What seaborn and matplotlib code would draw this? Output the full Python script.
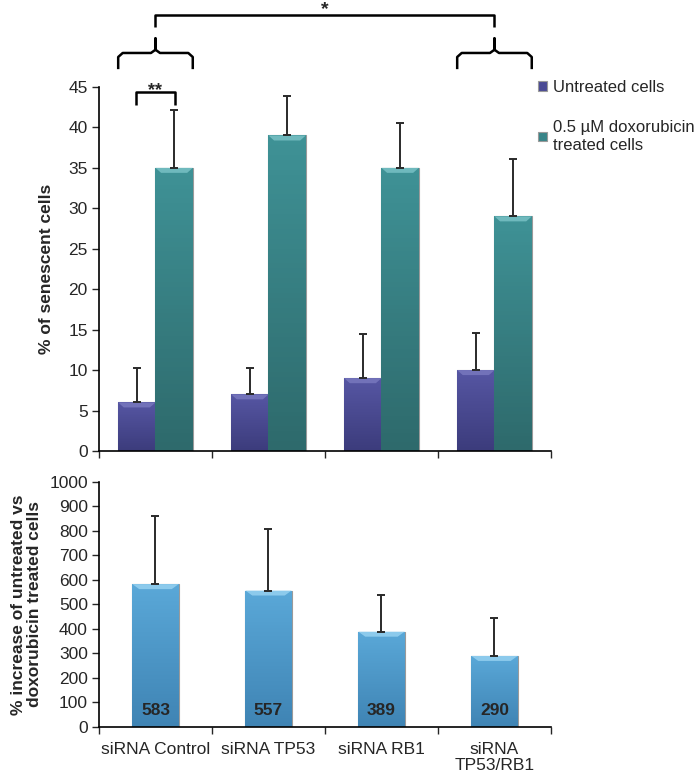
import numpy as np
import pandas as pd
import seaborn as sns
import matplotlib.pyplot as plt
from matplotlib.colors import LinearSegmentedColormap
from matplotlib.patches import Polygon

# data
groups = ['siRNA Control', 'siRNA TP53', 'siRNA RB1', 'siRNA\nTP53/RB1']
conditions = ['Untreated cells', '0.5 µM doxorubicin\ntreated cells']
untreated = [6, 7, 9, 10]
untreated_err = [4.3, 3.2, 5.4, 4.6]
treated = [35, 39, 35, 29]
treated_err = [7.1, 4.9, 5.6, 7.1]
increase = [583, 557, 389, 290]
increase_err = [277, 251, 151, 155]

sns.set_style('white')
plt.rcParams['font.family'] = ['Liberation Sans', 'DejaVu Sans']

df_top = pd.DataFrame({
    'group': groups * 2,
    'condition': [conditions[0]] * 4 + [conditions[1]] * 4,
    'value': untreated + treated,
    'err': untreated_err + treated_err,
})
df_bot = pd.DataFrame({'group': groups, 'value': increase, 'err': increase_err})

fig = plt.figure(figsize=(7, 7.77), dpi=100)
ax1 = fig.add_axes([0.1414, 0.4196, 0.6457, 0.4685])
ax2 = fig.add_axes([0.1414, 0.0644, 0.6457, 0.3153])

col_u = '#4a4a94'
col_t = '#388488'
col_b = '#4f9bcb'
shades = {
    col_u: ('#5656a3', '#3c3c7c', '#7a7ac0'),
    col_t: ('#3f9296', '#2e6a6c', '#7cc4c8'),
    col_b: ('#5aa8d8', '#3f84b4', '#9ad4f2'),
}


def shade_bars(ax, bars, color, px_h):
    # gradient fill + light bevel at the top, a bit like the original figure
    top, bot, light = shades[color]
    cmap = LinearSegmentedColormap.from_list('g', [bot, top])
    y0, y1 = ax.get_ylim()
    dy = 5 * (y1 - y0) / px_h
    for b in bars:
        x, w, h = b.get_x(), b.get_width(), b.get_height()
        grad = np.linspace(0, 1, 64).reshape(-1, 1)
        im = ax.imshow(grad, cmap=cmap, origin='lower', aspect='auto',
                       extent=[x, x + w, 0, h], zorder=b.get_zorder() + 0.1)
        im.set_clip_path(b)
        bev = Polygon([[x, h], [x + w, h], [x + w * 0.85, h - dy], [x + w * 0.15, h - dy]],
                      closed=True, facecolor=light, edgecolor='none', alpha=0.8,
                      zorder=b.get_zorder() + 0.2)
        ax.add_patch(bev)
    ax.set_xlim(-0.5, 3.5)
    ax.set_ylim(y0, y1)


# top panel
sns.barplot(data=df_top, x='group', y='value', hue='condition', ax=ax1,
            palette=[col_u, col_t], width=0.66, errorbar=None, saturation=1,
            edgecolor='#9a9a9a', linewidth=0.8)
ax1.set_ylim(0, 45)
ax1.set_xlim(-0.5, 3.5)
for bars, errs, c in zip(ax1.containers, [untreated_err, treated_err], [col_u, col_t]):
    shade_bars(ax1, bars, c, 364)
    xs = [b.get_x() + b.get_width() / 2 for b in bars]
    ys = [b.get_height() for b in bars]
    ax1.errorbar(xs, ys, yerr=[np.zeros(len(errs)), errs], fmt='none',
                 ecolor='#2a2a2a', elinewidth=1.4, capsize=3, capthick=1.4, zorder=5)

ax1.set_yticks(range(0, 46, 5))
ax1.set_xticks([-0.5, 0.5, 1.5, 2.5, 3.5])
ax1.set_xticklabels([])
ax1.set_xlabel('')
ax1.set_ylabel('% of senescent cells', fontsize=12.5, fontweight='bold', labelpad=10)
ax1.tick_params(axis='y', labelsize=12.5, length=5, width=1, direction='out', left=True, pad=3)
ax1.tick_params(axis='x', length=5, width=1, direction='out', bottom=True)
sns.despine(ax=ax1)
for s in ['left', 'bottom']:
    ax1.spines[s].set_color('black')
    ax1.spines[s].set_linewidth(1.2)
    ax1.spines[s].set_zorder(6)

leg = ax1.legend(loc='upper left', bbox_to_anchor=(0.769, 0.897),
                 bbox_transform=fig.transFigure, frameon=False, fontsize=12,
                 borderpad=0, borderaxespad=0,
                 handlelength=0.5, handleheight=0.5, handletextpad=0.38,
                 labelspacing=1.5)
for t in leg.get_texts():
    t.set_linespacing(1.25)

# significance brackets
kw = dict(color='black', lw=1.8, clip_on=False, solid_capstyle='butt', zorder=7)
ax1.plot([-0.17, -0.17, 0.17, 0.17], [42.8, 44.4, 44.4, 42.8], **kw)
ax1.text(0.0, 44.0, '**', ha='center', va='baseline', fontsize=13, fontweight='bold')
for c in [0, 3]:
    ax1.plot([c - 0.33, c - 0.33, c - 0.29, c - 0.04, c, c, c, c + 0.04, c + 0.29, c + 0.33, c + 0.33],
             [47.2, 48.7, 49.2, 49.2, 49.6, 51.0, 49.6, 49.2, 49.2, 48.7, 47.2], **kw)
ax1.plot([0, 0, 3, 3], [52.4, 53.9, 53.9, 52.4], **kw)
ax1.text(1.5, 54.0, '*', ha='center', va='baseline', fontsize=14, fontweight='bold')

# bottom panel
sns.barplot(data=df_bot, x='group', y='value', ax=ax2, color=col_b, width=0.41,
            errorbar=None, saturation=1, edgecolor='#9a9a9a', linewidth=0.8)
ax2.set_ylim(0, 1000)
ax2.set_xlim(-0.5, 3.5)
bars = ax2.containers[0]
shade_bars(ax2, bars, col_b, 245)
xs = [b.get_x() + b.get_width() / 2 for b in bars]
ys = [b.get_height() for b in bars]
ax2.errorbar(xs, ys, yerr=[np.zeros(len(increase_err)), increase_err], fmt='none',
             ecolor='#2a2a2a', elinewidth=1.4, capsize=3, capthick=1.4, zorder=5)
for x, v in zip(xs, increase):
    ax2.text(x, 68, str(v), ha='center', va='center', fontsize=12.5, fontweight='bold', zorder=6)

ax2.set_yticks(range(0, 1001, 100))
ax2.set_xticks([-0.5, 0.5, 1.5, 2.5, 3.5], minor=False)
ax2.set_xticklabels([])
ax2.set_xticks([0, 1, 2, 3], minor=True)
ax2.set_xticklabels(groups, minor=True, fontsize=12.5, linespacing=1.1, va='top')
ax2.tick_params(axis='x', which='minor', length=0, pad=11)
ax2.tick_params(axis='x', which='major', length=5, width=1, direction='out', bottom=True)
ax2.set_xlabel('')
ax2.set_ylabel('% increase of untreated vs\ndoxorubicin treated cells', fontsize=12.5,
               fontweight='bold', labelpad=5, linespacing=1.1)
ax2.tick_params(axis='y', labelsize=12.5, length=5, width=1, direction='out', left=True, pad=3)
sns.despine(ax=ax2)
for s in ['left', 'bottom']:
    ax2.spines[s].set_color('black')
    ax2.spines[s].set_linewidth(1.2)
    ax2.spines[s].set_zorder(6)

fig.savefig('out.png', dpi=100)
